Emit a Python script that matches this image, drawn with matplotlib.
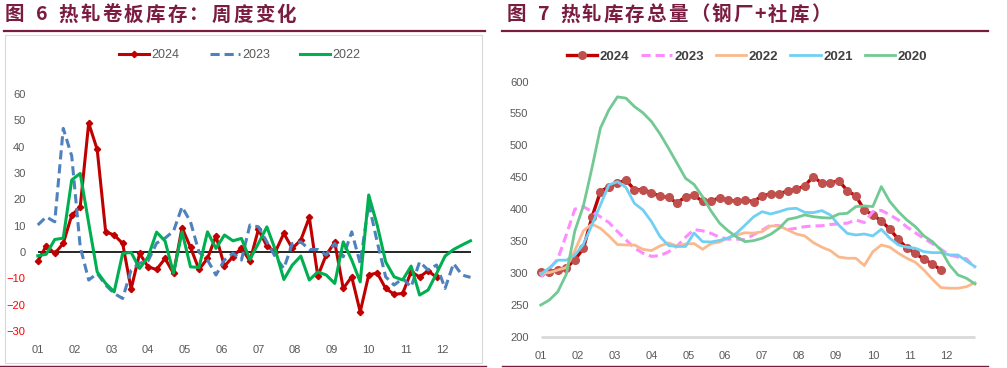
import matplotlib.pyplot as plt
from matplotlib.lines import Line2D
from matplotlib.patches import Rectangle

# ---- data (weekly) ----
months = ['01', '02', '03', '04', '05', '06', '07', '08', '09', '10', '11', '12']

chg_2024 = [-3.4, 2.4, -0.5, 3.3, 14, 17.2, 49, 39, 7.7, 6.5, 3.3, -14, -0.5, -5.6, -6.6, -2.4,
            -8.1, 9.3, 1.8, -6.6, -2.4, 6.1, -5.3, -1.8, 1.6, -3.4, 8.6, 2.3, 0.1, 7.1, 1.4, 4.6,
            13.2, -9.1, -1, 3.7, -13.8, -9.4, -22.7, -8.7, -7.9, -13.8, -16, -15.7, -7.5, -9.4,
            -7.1, -9.6]
chg_2023 = [10.3, 13.4, 11.5, 47, 36.5, 2, -10.6, -8.1, -12.5, -15.7, -17.6, -6.8, -4.2, -3.3,
            3.4, 5.3, 8, 17.2, 11.5, 0, -3, -8.7, -3, -0.4, -3, 10.3, 9.6, 3.9, -1.8, -6.2, 3.3,
            3.9, 1, 1, -1.1, 3.3, -1.8, 7.7, -4.3, 18.5, 3.9, -9.4, -12.5, -10, -13.2, -3.7,
            -6.8, -4.9, -13.8, -4.3, -8.7, -9.6]
chg_2022 = [-1.4, -0.8, 4.8, 5.3, 27.4, 29.9, 11, -7.5, -11.9, -15.1, -0.5, -0.1, -6.2, -1.8,
            7.6, 4.2, -8, 7.7, -5.6, -5.8, 7.7, 1.4, 6.5, 4.3, 5.2, -2.8, 3.3, 9.6, 0.8, -10.4,
            -4.9, -1.5, -10.6, -7.5, -8.7, -11.9, 3.9, -3, -11.3, 21.7, 10.3, -3.7, -9.4, -10.6,
            -5.3, -16.3, -14.4, -8.1, -1.5, 1, 2.7, 4.3]

inv_2024 = [302, 302, 304.6, 308.5, 320.3, 338.7, 387, 427.4, 435.3, 441, 445.3, 430.6, 430.6,
            425.9, 420, 418.5, 409.5, 419.6, 421.5, 412.5, 412.3, 418, 414, 412.3, 414, 411.8,
            421.2, 423.4, 423.4, 429, 431.2, 436.4, 451, 440.6, 441, 444.7, 429, 420.7, 398.7,
            391, 381.5, 368.4, 352.8, 338.7, 330.8, 321.4, 314, 304.6]
inv_2023 = [294, 306, 322, 360, 400, 404, 396, 388, 379, 365, 352, 339, 331, 326, 327, 333, 342,
            356, 368, 366, 362, 356, 353, 353, 352, 360, 367, 375, 374, 368, 370, 372.5, 373.6,
            374, 376, 377, 378, 383, 379, 396, 398, 391, 383, 372, 363, 354, 346, 337, 328, 325,
            322, 308]
inv_2022 = [299.5, 300.4, 304.6, 308.5, 335, 366, 376.5, 370, 358, 344.5, 343.8, 343.8, 337,
            335, 342.3, 347, 342, 345.4, 346, 337.1, 346, 348.5, 355, 359.5, 363, 362.2, 364.7,
            373.6, 373.6, 367.4, 361.1, 358, 347.6, 340.4, 335, 325, 323, 323, 311.6, 333.3,
            343.8, 340.4, 330.8, 323, 316.7, 304.6, 290, 277, 276, 276, 278.4, 284.7]
inv_2021 = [298, 308, 320, 320, 328, 345, 375, 406.6, 438, 443, 434, 409, 398.7, 380.4, 357,
            343, 341.5, 341.5, 362.6, 349, 348.5, 351, 354.5, 362.5, 375, 388, 396, 392.4, 396,
            400.3, 401.4, 395, 394.5, 397.7, 391, 375, 362, 359.5, 361, 358, 368.4, 354.4, 343.8,
            340.4, 338.7, 333.3, 331.8, 331.8, 328.2, 328.2, 318.7, 309.8]
inv_2020 = [249.7, 257.5, 270.6, 298, 366, 405, 464, 527, 555.6, 576, 574, 560.8, 551, 537.3,
            518, 495.5, 472, 448.4, 438.7, 419.6, 397, 378, 366, 356.4, 349, 350.6, 354.4, 360.6,
            370, 384, 386.7, 391, 388.2, 386.7, 386, 392.4, 393.5, 404, 405, 404, 435.3, 411.8,
            396, 383, 372.5, 358, 349, 336, 312.5, 296.8, 291.6, 282.7]

W, H = 1007, 368
MAROON = '#7A1C40'
GRAY = '#595959'
NUM_FONT = ['Liberation Sans Narrow', 'Liberation Sans', 'DejaVu Sans']
CJK_FONT = ['Noto Sans CJK SC', 'DejaVu Sans']

fig = plt.figure(figsize=(W / 100, H / 100), dpi=100)


def px_axes(l, t, r, b):
    return fig.add_axes([l / W, 1 - b / H, (r - l) / W, (b - t) / H])


def hline(x0, x1, y, color, lw):
    fig.add_artist(Line2D([x0 / W, x1 / W], [1 - y / H, 1 - y / H], color=color, lw=lw,
                          transform=fig.transFigure))


def spaced_title(x, y, text, pitch):
    # the report's title font is spaced wider than Noto, so set it glyph by glyph
    for ch in text:
        fig.text(x / W, 1 - y / H, ch, family=CJK_FONT, weight='bold', size=14,
                 color=MAROON, va='center', ha='left')
        if ch == ' ':
            x += pitch * 0.42
        elif ch.isdigit() or ch == '+':
            x += pitch * 0.62
        else:
            x += pitch


month_pos = [m * 52 / 12 for m in range(12)]

# ---- decorations: titles and rules ----
fig.add_artist(Rectangle((5 / W, 1 - 363 / H), 477 / W, 328 / H, transform=fig.transFigure,
                         fill=False, ec='#D9D9D9', lw=0.8))
spaced_title(5, 15, '图 6 热轧卷板库存：周度变化', 21.8)
spaced_title(507, 15, '图 7 热轧库存总量（钢厂+社库）', 21.6)
hline(4, 485, 31, MAROON, 1.6)
hline(502, 988, 31, MAROON, 1.6)
hline(0, 486, 365.5, MAROON, 1.0)
hline(502, 988, 365.5, MAROON, 1.0)

# ---- left: weekly change ----
ax1 = px_axes(31, 81, 479, 339)
wk = list(range(52))
ax1.hlines(0, wk[0], wk[-1], color='black', lw=1.2, zorder=1)
ax1.plot(wk[:len(chg_2024)], chg_2024, color='#C00000', lw=2.2, marker='D', ms=3.2,
         label='2024', zorder=3)
ax1.plot(wk[:len(chg_2023)], chg_2023, color='#4F81BD', lw=2.2, ls=(0, (3, 1.6)),
         label='2023', zorder=4)
ax1.plot(wk[:len(chg_2022)], chg_2022, color='#00B050', lw=2.2, label='2022', zorder=5)
ax1.set_xlim(-0.8, 52)
ax1.set_ylim(-33, 65)
ax1.set_yticks(range(-30, 61, 10))
ax1.set_xticks(month_pos)
ax1.set_xticklabels(months)
ax1.legend(loc='center', bbox_to_anchor=(240 / W, 1 - 55 / H),
           bbox_transform=fig.transFigure, ncol=3, frameon=False,
           prop={'family': NUM_FONT, 'size': 9}, handlelength=2.4,
           handletextpad=0.2, columnspacing=2.4, labelcolor=GRAY)

# ---- right: total inventory ----
ax2 = px_axes(534, 72, 983.5, 345)
ax2.hlines(200, wk[0], wk[-1], color='#D9D9D9', lw=2, zorder=1)
ax2.plot(wk[:len(inv_2024)], inv_2024, color='#C00000', lw=2.4, marker='o', ms=5.5,
         mfc='#C0504D', mec='#C0504D', label='2024', zorder=3)
ax2.plot(wk[:len(inv_2023)], inv_2023, color='#FF8CFF', lw=2.2, ls=(0, (3, 1.6)),
         label='2023', zorder=4)
ax2.plot(wk[:len(inv_2022)], inv_2022, color='#FAB98C', lw=2.0, label='2022', zorder=4)
ax2.plot(wk[:len(inv_2021)], inv_2021, color='#70D0F4', lw=2.0, label='2021', zorder=4)
ax2.plot(wk[:len(inv_2020)], inv_2020, color='#72C994', lw=2.0, label='2020', zorder=4)
ax2.set_xlim(-0.8, 52)
ax2.set_ylim(187, 615)
ax2.set_yticks(range(200, 601, 50))
ax2.set_xticks(month_pos)
ax2.set_xticklabels(months)
ax2.legend(loc='center', bbox_to_anchor=(747 / W, 1 - 57 / H),
           bbox_transform=fig.transFigure, ncol=5, frameon=False,
           prop={'family': NUM_FONT, 'size': 9.5, 'weight': 'bold'}, handlelength=2.3,
           handletextpad=0.2, columnspacing=0.9, labelcolor='#404040')

for ax in (ax1, ax2):
    for s in ax.spines.values():
        s.set_visible(False)
    ax.tick_params(length=0, labelsize=8, colors=GRAY, pad=4)
    for lab in ax.get_xticklabels() + ax.get_yticklabels():
        lab.set_family(NUM_FONT)
    ax.patch.set_alpha(0)
for lab in ax1.get_yticklabels():
    lab.set_color('#FF0000' if lab.get_position()[1] < 0 else GRAY)

fig.savefig('out.png', dpi=100)
